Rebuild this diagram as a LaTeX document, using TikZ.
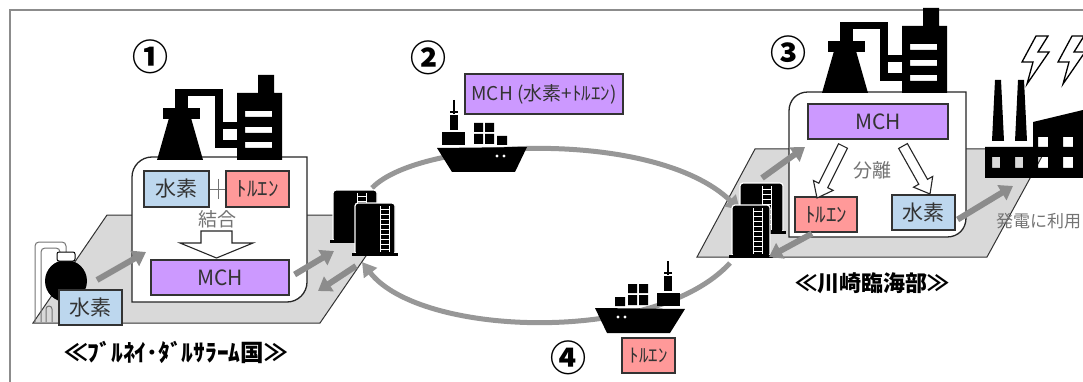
\documentclass[tikz,border=0pt]{standalone}
\usepackage{fontspec}
\setmainfont{Noto Sans CJK JP}
\usetikzlibrary{arrows.meta,calc}

\definecolor{hblue}{HTML}{BDD7EE}
\definecolor{tred}{HTML}{FF9999}
\definecolor{mpurple}{HTML}{CC99FF}
\definecolor{groundgray}{HTML}{D9D9D9}
\definecolor{flow}{HTML}{8C8C8C}
\definecolor{framegray}{HTML}{8C8C8C}
\definecolor{ink}{HTML}{333333}

\tikzset{
  chem/.style={draw=ink, line width=1.2pt, inner sep=0pt, text=ink,
    font=\fontsize{21}{21}\selectfont},
  hbox/.style={chem, fill=hblue},
  tbox/.style={chem, fill=tred},
  mbox/.style={chem, fill=mpurple},
  flowarrow/.style={draw=flow, line width=6pt, -{Triangle[length=13pt,width=17pt]}},
  ringarrow/.style={draw=flow!90, line width=5pt, -{Triangle[length=14pt,width=16pt]}},
  groundplate/.style={fill=groundgray, draw=black!80, line width=1pt},
  plantbox/.style={fill=white, draw=black!85, line width=1.3pt},
  hollow/.style={fill=white, draw=black!85, line width=1.1pt, line join=miter},
  note/.style={text=black!55, inner sep=0pt, font=\fontsize{19}{19}\selectfont},
  place/.style={inner sep=0pt, font=\bfseries\fontsize{22}{22}\selectfont},
  stepno/.style={inner sep=0pt, font=\bfseries\fontsize{36}{36}\selectfont},
}

% chemical plant silhouette, origin at the lower left of the flask
\newcommand\plantshape[2]{%
  \begin{scope}[shift={(#1,#2)}]
    \fill (0,0) -- (46,0) -- (34,-42) -- (12,-42) -- cycle;
    \fill (6,-52) rectangle (43,-41);
    \fill (18,-71) rectangle (31,-52);
    \fill (18,-71) rectangle (66,-64);
    \fill (58,-71) rectangle (66,-12);
    \fill (58,-38) rectangle (82,-31);
    \fill (58,-20) rectangle (82,-12);
    \fill[even odd rule] (80,0) -- (80,-67) -- (101,-67) -- (101,-85) -- (117,-85)
      -- (117,-67) -- (125,-67) -- (125,0) -- cycle
      (88,-49) rectangle (115,-43) (88,-33) rectangle (115,-27) (88,-18) rectangle (115,-12);
  \end{scope}}

% storage tank: x, y (top left), width, height, ladder x
\newcommand\storagetank[5]{%
  \fill[draw=white, line width=1.2pt, rounded corners=3pt]
    (#1,#2+#4) -- (#1,#2) -- (#1+#3,#2) -- (#1+#3,#2+#4) -- cycle;
  \fill (#1-3,#2+#4-2) rectangle (#1+#3+3,#2+#4+1);
  \draw[white, line width=1pt] (#5,#2+3) -- (#5,#2+#4-3) (#5+9,#2+3) -- (#5+9,#2+#4-3);
  \pgfmathtruncatemacro\nrungs{(#4-6)/5}
  \foreach \k in {1,...,\nrungs} \draw[white, line width=1pt] (#5,#2+1+\k*5) -- (#5+9,#2+1+\k*5);}

% container ship, origin at the upper left of the hull, mirrored by #3
\newcommand\ship[3]{%
  \begin{scope}[shift={(#1,#2)}, xscale=#3]
    \fill (0,1) -- (90,0) -- (78,25) -- (15,25) -- cycle;
    \fill[white] (60,9) circle (1.6) (67,9) circle (1.6);
    \fill (5,-15) rectangle (28,-2);
    \fill (13,-32) rectangle (21,-17);
    \draw[line width=1.6pt] (17,-47) -- (17,-33);
    \draw[line width=1.4pt] (13,-35) -- (21,-35);
    \fill (37,-24) rectangle (46,-15) (48,-24) rectangle (57,-15);
    \fill (37,-13) rectangle (46,-3) (48,-13) rectangle (57,-3) (60,-11) rectangle (70,-2);
  \end{scope}}

% lightning bolt outline
\newcommand\bolt[2]{%
  \draw[fill=white, line width=1.3pt, line join=miter, shift={(#1,#2)}]
    (16,0) -- (2,26) -- (13,26) -- (7,48) -- (29,16) -- (18,16) -- (28,0) -- cycle;}

% hollow block arrow between two named coordinates
\newcommand\hollowarrow[2]{%
  \coordinate (hb) at ($(#2)!14pt!(#1)$);
  \draw[hollow] ($(#1)!5pt!90:(#2)$) -- ($(hb)!5pt!90:(#2)$) -- ($(hb)!11pt!90:(#2)$)
    -- (#2) -- ($(hb)!11pt!-90:(#2)$) -- ($(hb)!5pt!-90:(#2)$) -- ($(#1)!5pt!-90:(#2)$) -- cycle;}

\begin{document}
\begin{tikzpicture}[x=1pt, y=-1pt]
  \useasboundingbox (0,0) rectangle (1083,382);

  % outer frame
  \draw[framegray, line width=1.6pt] (10,382) -- (10,10) -- (1083,10);

  % ground plates
  \draw[groundplate] (33,323) -- (107,215) -- (394,215) -- (320,323) -- cycle;
  \draw[groundplate] (697,257) -- (755,149) -- (1046,149) -- (987,257) -- cycle;

  % shipping loop
  \coordinate (loopA) at (372,188);
  \coordinate (loopB) at (740,210);
  \coordinate (loopC) at (730,263);
  \coordinate (loopD) at (362,262);
  \draw[ringarrow] (loopA) .. controls (420,138) and (655,128) .. (loopB);
  \draw[ringarrow] (loopC) .. controls (655,345) and (420,337) .. (loopD);

  % plant enclosures
  \draw[plantbox] (132,302) -- (132,177) .. controls (132,166) and (141,157) .. (152,157)
    -- (307,157) -- (307,282) .. controls (307,293) and (298,302) .. (287,302) -- cycle;
  \draw[plantbox] (789,237) -- (789,111) .. controls (789,100) and (797,92) .. (808,92)
    -- (966,92) -- (966,218) .. controls (966,229) and (958,237) .. (947,237) -- cycle;

  \plantshape{157}{160}
  \plantshape{822}{93}

  % hydrogen source tank
  \draw[black!55, line width=1pt, rounded corners=4pt]
    (35,322) -- (35,242) -- (66,242) -- (66,262)
    (41,322) -- (41,248) -- (60,248) -- (60,262);
  \draw[black!55, line width=1pt, rounded corners=3pt]
    (46,322) -- (46,306) -- (52,306) -- (52,322);
  \fill (66,281) circle (21);
  \draw[fill=white, line width=1pt, rounded corners=2pt] (57,252) rectangle (75,261);

  % storage tanks
  \storagetank{333}{190}{44}{52}{357}
  \storagetank{355}{203}{40}{52}{380}
  \storagetank{740}{183}{43}{50}{762}
  \storagetank{732}{205}{38}{52}{753}

  % ships
  \ship{437}{147}{1}
  \ship{685}{308}{-1}

  % power station
  \fill (992,141) -- (995,80) -- (1001,80) -- (1004,141) -- cycle;
  \fill (1015,141) -- (1018,80) -- (1024,80) -- (1027,141) -- cycle;
  \fill[even odd rule] (985,178) -- (985,147) -- (1033,147) -- (1033,122) -- (1083,110)
    -- (1083,178) -- cycle
    (992,157) rectangle (1000,168) (1015,157) rectangle (1023,168)
    (1038,157) rectangle (1048,168) (1063,157) rectangle (1073,168)
    (1038,137) rectangle (1048,147) (1063,137) rectangle (1073,147);
  \bolt{1020}{36}
  \bolt{1056}{36}

  % chemical labels
  \node[hbox, minimum width=65pt, minimum height=36pt] (h1) at (176.5,189) {水素};
  \node[tbox, minimum width=63pt, minimum height=36pt] (t1) at (257.5,189) {ﾄﾙｴﾝ};
  \node[mbox, minimum width=138pt, minimum height=35pt] (m1) at (220,277.5) {MCH};
  \node[hbox, minimum width=63pt, minimum height=35pt] (h0) at (90.5,307.5) {水素};
  \node[mbox, minimum width=140pt, minimum height=35pt] (m3) at (878,121.5) {MCH};
  \node[tbox, minimum width=62pt, minimum height=35pt] (t3) at (826,214.5) {ﾄﾙｴﾝ};
  \node[hbox, minimum width=63pt, minimum height=35pt] (h3) at (923.5,212.5) {水素};
  \node[mbox, minimum width=158pt, minimum height=40pt, font=\fontsize{19}{19}\selectfont]
    (m2) at (544,94) {MCH (水素+ﾄﾙｴﾝ)};
  \node[tbox, minimum width=53pt, minimum height=35pt, font=\fontsize{19}{19}\selectfont]
    (t4) at (648.5,355.5) {ﾄﾙｴﾝ};

  % bonding step
  \draw[black!55, line width=1pt] (h1.east) -- (t1.west);
  \draw[black!55, line width=1pt] (218,179) -- (218,199);
  \node[note] (bond) at (217,219) {結合};
  \draw[hollow] (201,231) -- (232,231) -- (232,243) -- (253,243) -- (216.5,258)
    -- (180,243) -- (201,243) -- cycle;

  % separation step
  \node[note] (split) at (872,170) {分離};
  \coordinate (sepL) at (843,146);
  \coordinate (sepLt) at (817,198);
  \coordinate (sepR) at (903,146);
  \coordinate (sepRt) at (930,194);
  \hollowarrow{sepL}{sepLt}
  \hollowarrow{sepR}{sepRt}

  % transfers
  \coordinate (srcout) at (97,280);
  \coordinate (plant1in) at (146,252);
  \coordinate (tankAin) at (334,251);
  \coordinate (tankAout) at (356,266);
  \coordinate (plant1ret) at (318,291);
  \coordinate (tankBout) at (762,178);
  \coordinate (plant3in) at (805,147);
  \coordinate (tankBin) at (769,257);
  \coordinate (powerin) at (1013,186);
  \draw[flowarrow] (srcout) -- (plant1in);
  \draw[flowarrow] (m1.east) ++(5,-3) coordinate (m1out) (m1out) -- (tankAin);
  \draw[flowarrow] (tankAout) -- (plant1ret);
  \draw[flowarrow] (tankBout) -- (plant3in);
  \draw[flowarrow] (t3.south) ++(-14,1) coordinate (t3out) (t3out) -- (tankBin);
  \draw[flowarrow] (h3.east) ++(2,7) coordinate (h3out) (h3out) -- (powerin);

  % step numbers and place names
  \node[stepno] (s1) at (150,57) {①};
  \node[stepno] (s2) at (428,58) {②};
  \node[stepno] (s3) at (788,53) {③};
  \node[stepno] (s4) at (568,358) {④};
  \node[place, font=\bfseries\fontsize{23.5}{23.5}\selectfont] (brunei) at (176,352)
    {≪ﾌﾞﾙﾈｲ･ﾀﾞﾙｻﾗｰﾑ国≫};
  \node[place] (kawasaki) at (872,283) {≪川崎臨海部≫};
  \node[note, anchor=west, font=\fontsize{17}{17}\selectfont] (use) at (996,221) {発電に利用};
\end{tikzpicture}
\end{document}
